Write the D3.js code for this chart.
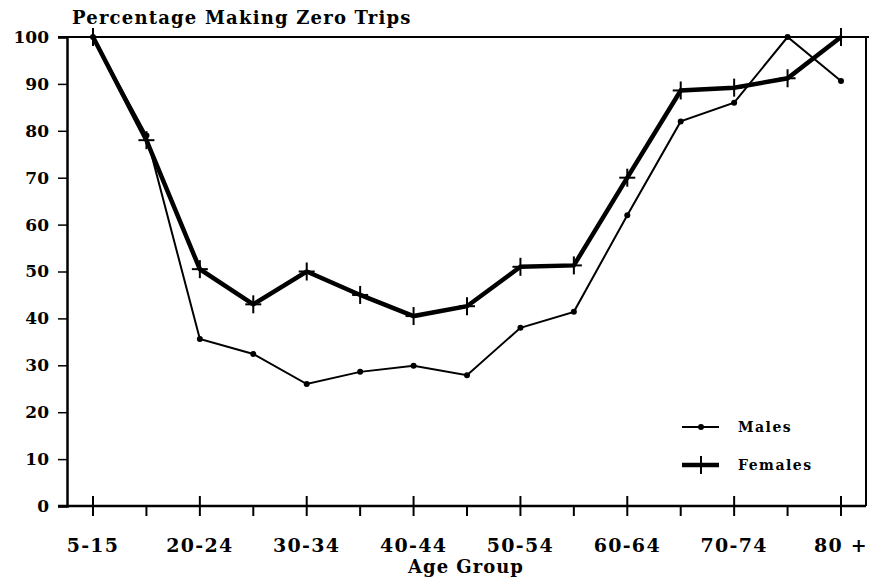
<!DOCTYPE html>
<html lang="en">

<head>
    <meta charset="UTF-8">
    <title>Percentage Making Zero Trips</title>
    <style>
        body { margin: 0; background: white; }
        text { font-family: "DejaVu Serif", serif; font-weight: bold; fill: black; }
    </style>
</head>

<body>
    <div class="canvas"></div>
    <script src="https://cdnjs.cloudflare.com/ajax/libs/d3/7.8.2/d3.min.js"></script>
    <script>
        const ageGroups = ["5-15", "16-19", "20-24", "25-29", "30-34", "35-39", "40-44", "45-49",
            "50-54", "55-59", "60-64", "65-69", "70-74", "75-79", "80 +"];
        const males = [100, 79, 35.6, 32.4, 26, 28.6, 29.9, 27.9, 38, 41.4, 62, 82, 86, 100, 90.6];
        const females = [100, 78, 50.5, 43, 50, 45, 40.5, 42.6, 51, 51.3, 70, 88.6, 89.2, 91.2, 100];
        const yTicks = [0, 10, 20, 30, 40, 50, 60, 70, 80, 90, 100];

        const width = 869;
        const height = 585;

        const svg = d3.select(".canvas")
            .append("svg")
            .attr("width", width)
            .attr("height", height);

        const x = d3.scalePoint()
            .domain(ageGroups)
            .range([93, 841]);

        const y = d3.scaleLinear()
            .domain([0, 100])
            .range([506, 37]);

        // frame: top and right lines
        svg.append("line")
            .attr("x1", 58).attr("x2", width)
            .attr("y1", y(100)).attr("y2", y(100))
            .attr("stroke", "black").attr("stroke-width", 2);
        svg.append("line")
            .attr("x1", 866).attr("x2", 866)
            .attr("y1", y(100)).attr("y2", y(0))
            .attr("stroke", "black").attr("stroke-width", 2);

        // y axis
        const yAxis = d3.axisLeft(y).tickValues(yTicks).tickSize(9).tickPadding(9);
        const yAxisGroup = svg.append("g").attr("transform", "translate(67,0)").call(yAxis);
        yAxisGroup.select(".domain").attr("stroke-width", 2.5);
        yAxisGroup.selectAll(".tick line").attr("stroke-width", 1.5);
        yAxisGroup.selectAll("text")
            .attr("font-family", "DejaVu Serif").attr("font-size", 17).attr("font-weight", "bold");

        // x axis: labelled ticks cross the axis, others sit below it
        const xAxisGroup = svg.append("g").attr("transform", `translate(0,${y(0)})`);
        xAxisGroup.append("line")
            .attr("x1", 58).attr("x2", 866)
            .attr("stroke", "black").attr("stroke-width", 2.5);
        const ticks = xAxisGroup.selectAll(".tick")
            .data(ageGroups)
            .enter().append("g")
            .attr("class", "tick")
            .attr("transform", d => `translate(${x(d)},0)`);
        ticks.append("line")
            .attr("y1", (d, i) => i % 2 === 0 ? -10 : 0)
            .attr("y2", 10)
            .attr("stroke", "black").attr("stroke-width", 2);
        ticks.filter((d, i) => i % 2 === 0).append("text")
            .attr("y", 46)
            .attr("text-anchor", "middle")
            .attr("font-size", 19)
            .attr("letter-spacing", 1.3)
            .text(d => d);

        // titles
        svg.append("text")
            .attr("x", 72).attr("y", 24)
            .attr("font-size", 18)
            .attr("letter-spacing", 1.2)
            .text("Percentage Making Zero Trips");
        svg.append("text")
            .attr("x", 466).attr("y", 573)
            .attr("text-anchor", "middle")
            .attr("font-size", 18)
            .attr("letter-spacing", 1)
            .text("Age Group");

        const line = d3.line()
            .x((d, i) => x(ageGroups[i]))
            .y(d => y(d));

        // males: thin line with dots
        svg.append("path")
            .datum(males)
            .attr("d", line)
            .attr("fill", "none").attr("stroke", "black").attr("stroke-width", 2);
        svg.selectAll(".male-dot")
            .data(males)
            .enter().append("circle")
            .attr("class", "male-dot")
            .attr("cx", (d, i) => x(ageGroups[i]))
            .attr("cy", d => y(d))
            .attr("r", 3);

        // females: thick line with crosses
        svg.append("path")
            .datum(females)
            .attr("d", line)
            .attr("fill", "none").attr("stroke", "black").attr("stroke-width", 4.5);
        const crosses = svg.selectAll(".female-mark")
            .data(females)
            .enter().append("g")
            .attr("class", "female-mark")
            .attr("transform", (d, i) => `translate(${x(ageGroups[i])},${y(d)})`);
        crosses.append("line")
            .attr("y1", -9).attr("y2", 9)
            .attr("stroke", "black").attr("stroke-width", 2);
        crosses.append("line")
            .attr("x1", -8).attr("x2", 8)
            .attr("stroke", "black").attr("stroke-width", 2);

        // legend
        const legend = svg.append("g").attr("transform", "translate(682,427)");
        legend.append("line")
            .attr("x1", 0).attr("x2", 37)
            .attr("stroke", "black").attr("stroke-width", 2);
        legend.append("circle").attr("cx", 19).attr("r", 3);
        legend.append("text")
            .attr("x", 56).attr("y", 5)
            .attr("font-size", 14)
            .attr("letter-spacing", 1.5)
            .text("Males");
        legend.append("line")
            .attr("x1", 0).attr("x2", 37)
            .attr("y1", 38).attr("y2", 38)
            .attr("stroke", "black").attr("stroke-width", 4.5);
        legend.append("line")
            .attr("x1", 19).attr("x2", 19)
            .attr("y1", 29).attr("y2", 47)
            .attr("stroke", "black").attr("stroke-width", 2);
        legend.append("text")
            .attr("x", 56).attr("y", 43)
            .attr("font-size", 14)
            .attr("letter-spacing", 1.5)
            .text("Females");
    </script>
</body>

</html>
